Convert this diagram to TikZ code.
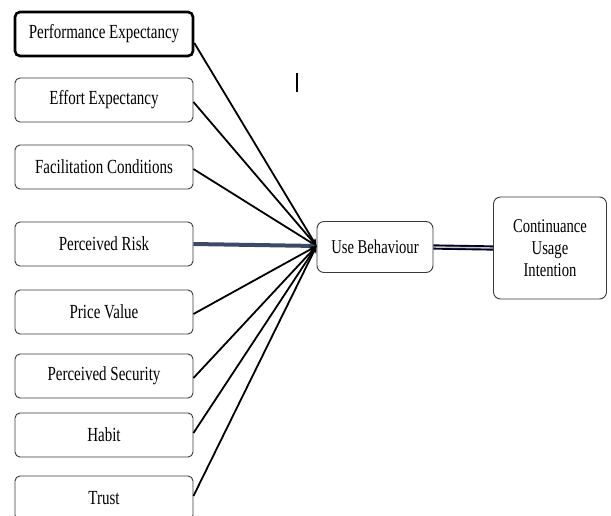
\documentclass[tikz,border=0pt]{standalone}
\usepackage{fontspec}
\setmainfont{Liberation Serif}[FakeStretch=0.75]
\usetikzlibrary{arrows.meta,calc}
\definecolor{riskline}{HTML}{3B4A68}
\definecolor{boxline}{HTML}{3A3A3A}
\begin{document}
\begin{tikzpicture}[x=1pt,y=-1pt,
  factor/.style={draw=boxline,line width=0.9pt,rounded corners=5pt,minimum width=178pt,minimum height=44pt,inner sep=0pt,font=\fontsize{20}{22}\selectfont,fill=white},
  link/.style={line width=1.8pt,-{Stealth[length=7pt,width=6pt]}},
  mainbox/.style={draw=boxline,line width=0.9pt,rounded corners=7pt,inner sep=0pt,font=\fontsize{19.5}{22}\selectfont,align=center,fill=white}]
\useasboundingbox (0,0) rectangle (611,515);
\clip (0,0) rectangle (611,515);
\node[factor,line width=2.6pt,draw=black] (pe) at (104,34) {Performance Expectancy};
\node[factor] (ee) at (104,100) {Effort Expectancy};
\node[factor] (fc) at (104,167) {Facilitation Conditions};
\node[factor] (pr) at (104,244) {Perceived Risk};
\node[factor] (pv) at (104,312) {Price Value};
\node[factor] (ps) at (104,376) {Perceived Security};
\node[factor] (hb) at (104,435) {Habit};
\node[factor] (tr) at (104,498) {Trust};
\node[mainbox,minimum width=116pt,minimum height=51pt] (ub) at (375,247) {Use Behaviour};
\node[mainbox,minimum width=113pt,minimum height=102pt] (ci) at (550,248) {Continuance\\Usage\\Intention};
\coordinate (hub) at ($(ub.west)+(0,-1)$);
\draw[link] ($(pe.east)+(0,9)$) -- (hub);
\draw[link] ($(ee.east)+(0,2)$) -- (hub);
\draw[link] ($(fc.east)+(0,2)$) -- (hub);
\draw[link,draw=riskline,line width=4pt] (pr.east) -- (hub);
\draw[link] ($(pv.east)+(0,2)$) -- (hub);
\draw[link] ($(ps.east)+(0,2)$) -- (hub);
\draw[link] ($(hb.east)+(0,-2)$) -- (hub);
\draw[link] ($(tr.east)+(0,-2)$) -- (hub);
\draw[line width=1.9pt,draw=black!85!blue,double=gray!45,double distance=1.4pt] (ub.east) -- (ci.west);
\coordinate (cur1) at (297,73);
\coordinate (cur2) at (297,92);
\draw[line width=1.4pt] (cur1) -- (cur2);
\end{tikzpicture}
\end{document}
